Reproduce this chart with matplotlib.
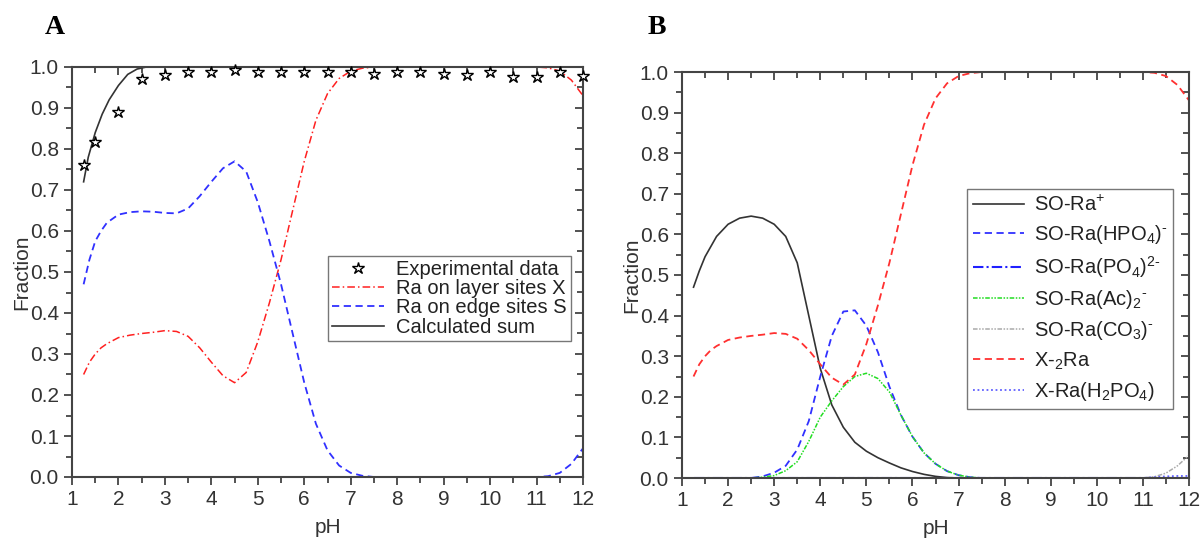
import numpy as np
import matplotlib
matplotlib.use("Agg")
from matplotlib import pyplot as plt
from matplotlib.ticker import MultipleLocator, FormatStrFormatter

plt.rcParams["font.family"] = ["Liberation Sans", "DejaVu Sans"]
plt.rcParams["mathtext.default"] = "regular"

AXIS_GREY = "#444444"
TEXT_GREY = "#333333"
HY = "\u2010"  # plain hyphen for the charge signs

# ---- panel A data ----
ph_exp = [1.25, 1.5, 2, 2.5, 3, 3.5, 4, 4.5, 5, 5.5, 6, 6.5, 7, 7.5, 8, 8.5, 9, 9.5, 10, 10.5, 11, 11.5, 12]
frac_exp = [0.76, 0.818, 0.89, 0.97, 0.98, 0.988, 0.988, 0.992, 0.988, 0.988, 0.988, 0.988, 0.987,
            0.982, 0.988, 0.988, 0.982, 0.98, 0.988, 0.975, 0.975, 0.987, 0.977]

ph_sum = [1.25, 1.35, 1.5, 1.65, 1.8, 2.0, 2.2, 2.4, 2.6, 2.75]
frac_sum = [0.72, 0.78, 0.84, 0.885, 0.92, 0.955, 0.982, 0.995, 1.0, 1.0]

ph_model = [1.25, 1.375, 1.5, 1.625, 1.75, 2.0, 2.25, 2.5, 2.75, 3.0, 3.25, 3.5, 3.75, 4.0, 4.25,
            4.5, 4.75, 5.0, 5.25, 5.5, 5.75, 6.0, 6.25, 6.5, 6.75, 7.0, 7.25, 7.5, 8, 9, 10, 10.5,
            11, 11.25, 11.5, 11.75, 12]
ra_layer = [0.25, 0.28, 0.3, 0.315, 0.325, 0.34, 0.346, 0.35, 0.353, 0.357, 0.355, 0.343, 0.315,
            0.28, 0.247, 0.23, 0.255, 0.33, 0.425, 0.53, 0.65, 0.77, 0.87, 0.935, 0.972, 0.99,
            0.997, 1.0, 1.0, 1.0, 1.0, 1.0, 1.0, 0.998, 0.99, 0.968, 0.93]
ra_edge = [0.47, 0.53, 0.575, 0.6, 0.62, 0.64, 0.646, 0.648, 0.647, 0.644, 0.643, 0.655, 0.685,
           0.72, 0.753, 0.77, 0.745, 0.67, 0.575, 0.47, 0.35, 0.23, 0.13, 0.065, 0.028, 0.01,
           0.003, 0.0, 0.0, 0.0, 0.0, 0.0, 0.0, 0.002, 0.01, 0.032, 0.07]

# ---- panel B data ----
so_ra = [0.47, 0.51, 0.545, 0.57, 0.595, 0.625, 0.64, 0.645, 0.64, 0.625, 0.595, 0.53, 0.4, 0.27,
         0.18, 0.125, 0.088, 0.066, 0.05, 0.037, 0.025, 0.016, 0.009, 0.004, 0.001, 0.0, 0.0,
         0.0, 0.0, 0.0, 0.0, 0.0, 0.0, 0.0, 0.0, 0.0, 0.0]
so_hpo4 = [0.0, 0.0, 0.0, 0.0, 0.0, 0.0, 0.0, 0.0, 0.004, 0.013, 0.03, 0.07, 0.14, 0.25, 0.35,
           0.41, 0.413, 0.375, 0.31, 0.225, 0.155, 0.102, 0.062, 0.035, 0.017, 0.007, 0.002,
           0.0, 0.0, 0.0, 0.0, 0.0, 0.0, 0.0, 0.0, 0.0, 0.0]
so_po4 = [0.0] * 37
so_ac = [0.0, 0.0, 0.0, 0.0, 0.0, 0.0, 0.0, 0.0, 0.002, 0.006, 0.018, 0.04, 0.09, 0.15, 0.19,
         0.225, 0.25, 0.258, 0.245, 0.212, 0.155, 0.102, 0.062, 0.035, 0.017, 0.007, 0.002,
         0.0, 0.0, 0.0, 0.0, 0.0, 0.0, 0.0, 0.0, 0.0, 0.0]
so_co3 = [0.0] * 33 + [0.003, 0.012, 0.03, 0.056]
x2_ra = ra_layer
x_h2po4 = [0.0] * 33 + [0.002, 0.004, 0.005, 0.005]

fig = plt.figure(figsize=(12.01, 5.4), dpi=100)
ax_a = fig.add_axes([72 / 1201, 1 - 477 / 540, 511 / 1201, 410 / 540])
ax_b = fig.add_axes([682 / 1201, 1 - 478 / 540, 507 / 1201, 406 / 540])


def style_axes(ax):
    ax.set_xlim(1, 12)
    ax.set_ylim(0, 1.0)
    ax.xaxis.set_major_locator(MultipleLocator(1))
    ax.xaxis.set_minor_locator(MultipleLocator(0.5))
    ax.yaxis.set_major_locator(MultipleLocator(0.1))
    ax.yaxis.set_minor_locator(MultipleLocator(0.05))
    ax.yaxis.set_major_formatter(FormatStrFormatter("%.1f"))
    for s in ax.spines.values():
        s.set_color(AXIS_GREY)
        s.set_linewidth(1.5)
    ax.tick_params(which="both", direction="out", colors=AXIS_GREY, width=1.3,
                   labelcolor=TEXT_GREY, labelsize=15)
    ax.tick_params(which="major", length=6)
    ax.tick_params(which="minor", length=4)
    top = ax.secondary_xaxis("top")
    top.xaxis.set_major_locator(MultipleLocator(1))
    top.xaxis.set_minor_locator(MultipleLocator(0.5))
    top.tick_params(which="both", direction="in", colors=AXIS_GREY, width=1.3, labeltop=False)
    top.tick_params(which="major", length=6)
    top.tick_params(which="minor", length=4)
    top.spines["top"].set_visible(False)
    right = ax.secondary_yaxis("right")
    right.yaxis.set_major_locator(MultipleLocator(0.1))
    right.yaxis.set_minor_locator(MultipleLocator(0.05))
    right.tick_params(which="both", direction="in", colors=AXIS_GREY, width=1.3, labelright=False)
    right.tick_params(which="major", length=6)
    right.tick_params(which="minor", length=4)
    right.spines["right"].set_visible(False)
    ax.set_xlabel("pH", fontsize=15, color=TEXT_GREY, labelpad=6)
    ax.set_ylabel("Fraction", fontsize=15, color=TEXT_GREY, labelpad=-1)


# ---- panel A ----
ax_a.plot(ph_exp, frac_exp, linestyle="none", marker="*", markersize=9, markerfacecolor="white",
          markeredgecolor="black", markeredgewidth=1.0, label="Experimental data", clip_on=False,
          zorder=5)
ax_a.plot(ph_model, ra_layer, color="#ff2020", linestyle=(0, (5, 2, 1, 2)), linewidth=1.1,
          label="Ra on layer sites X")
ax_a.plot(ph_model, ra_edge, color="#3030ff", linestyle=(0, (4, 2.5)), linewidth=1.3,
          label="Ra on edge sites S")
ax_a.plot(ph_sum, frac_sum, color="#333333", linewidth=1.2, label="Calculated sum")
style_axes(ax_a)
leg_a = ax_a.legend(loc="upper left", bbox_to_anchor=(0.5, 0.54), fontsize=14.5, frameon=True,
                    fancybox=False, edgecolor="#555555", handlelength=2.6, handletextpad=0.6,
                    borderpad=0.2, labelspacing=0.02, borderaxespad=0)
leg_a.get_frame().set_linewidth(1.0)
for t in leg_a.get_texts():
    t.set_color("#222222")

# ---- panel B ----
ax_b.plot(ph_model, so_ra, color="#333333", linewidth=1.2, label="SO-Ra$^{+}$")
ax_b.plot(ph_model, so_hpo4, color="#3030ff", linestyle=(0, (4, 2.5)), linewidth=1.3,
          label=f"SO-Ra(HPO$_4$)$^{{{HY}}}$")
ax_b.plot(ph_model, so_po4, color="#2020ff", linestyle=(0, (5, 1.5, 1, 1.5)), linewidth=1.5,
          label=f"SO-Ra(PO$_4$)$^{{2{HY}}}$")
ax_b.plot(ph_model, so_ac, color="#22dd22", linestyle=(0, (3, 1, 1, 1, 1, 1)), linewidth=1.1,
          label=f"SO-Ra(Ac)$_2$$^{{{HY}}}$")
ax_b.plot(ph_model, so_co3, color="#aaaaaa", linestyle=(0, (3, 1, 1, 1, 1, 1)), linewidth=1.1,
          label=f"SO-Ra(CO$_3$)$^{{{HY}}}$")
ax_b.plot(ph_model, x2_ra, color="#ff3030", linestyle=(0, (4, 2.5)), linewidth=1.3,
          label="X-$_2$Ra")
ax_b.plot(ph_model, x_h2po4, color="#6060ff", linestyle=(0, (1, 1.5)), linewidth=1.3,
          label="X-Ra(H$_2$PO$_4$)")
style_axes(ax_b)
leg_b = ax_b.legend(loc="upper left", bbox_to_anchor=(0.563, 0.712), fontsize=14.5, frameon=True,
                    fancybox=False, edgecolor="#555555", handlelength=2.5, handletextpad=0.5,
                    borderpad=0.3, labelspacing=0.4, borderaxespad=0)
leg_b.get_frame().set_linewidth(1.0)
for t in leg_b.get_texts():
    t.set_color("#222222")

fig.text(45 / 1201, 1 - 28 / 540, "A", fontsize=20, fontweight="bold", family="Liberation Serif",
         va="center", ha="left")
fig.text(648 / 1201, 1 - 28 / 540, "B", fontsize=20, fontweight="bold", family="Liberation Serif",
         va="center", ha="left")

fig.savefig("out.png", dpi=100)
